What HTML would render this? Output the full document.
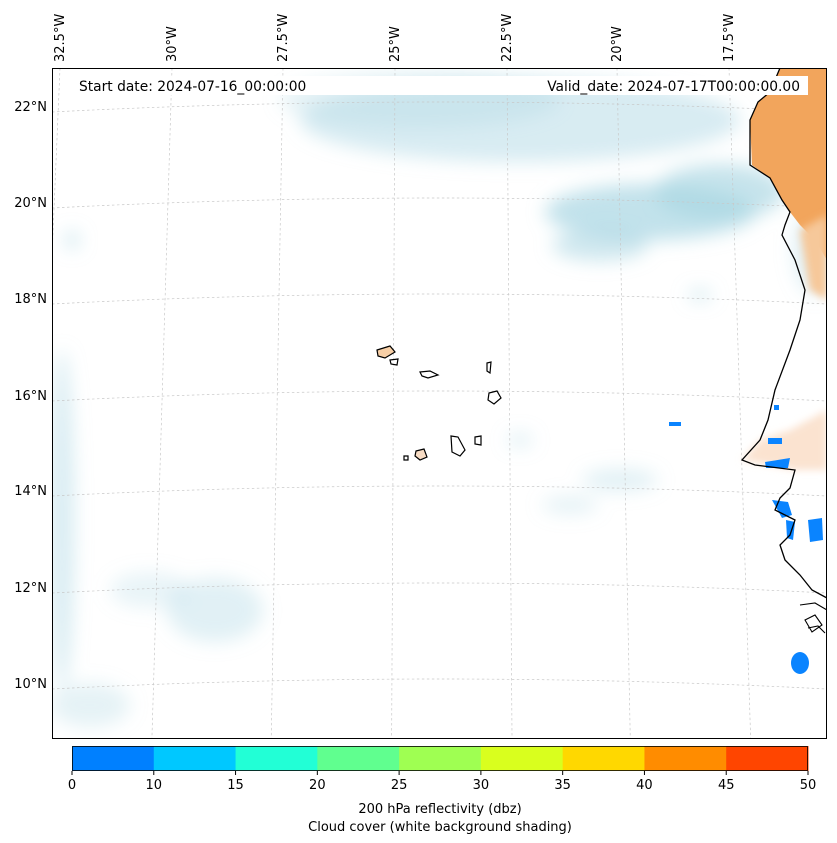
<!DOCTYPE html>
<html><head><meta charset="utf-8">
<style>
body{margin:0;background:#fff;font-family:"Liberation Sans","DejaVu Sans",sans-serif;}
#wrap{position:relative;width:837px;height:843px;overflow:hidden;background:#fff}
svg text{font-family:"DejaVu Sans","Liberation Sans",sans-serif;font-size:13px;fill:#000}
</style></head>
<body>
<div id="wrap">
<svg id="svg" width="837" height="843" xmlns="http://www.w3.org/2000/svg">
<defs>
<filter id="blur" x="-50%" y="-50%" width="200%" height="200%"><feGaussianBlur stdDeviation="9"/></filter>
<filter id="blur2" x="-50%" y="-50%" width="200%" height="200%"><feGaussianBlur stdDeviation="4"/></filter>
<clipPath id="mapclip"><rect x="52" y="68" width="775" height="671"/></clipPath>
</defs>
<g clip-path="url(#mapclip)">
<g id="clouds" filter="url(#blur)" fill="#a8d5e2">
<ellipse cx="520" cy="120" rx="220" ry="42" opacity="0.45"/>
<ellipse cx="420" cy="100" rx="140" ry="28" opacity="0.3"/>
<ellipse cx="650" cy="212" rx="105" ry="28" opacity="0.7"/>
<ellipse cx="720" cy="192" rx="65" ry="28" opacity="0.65"/>
<ellipse cx="600" cy="245" rx="48" ry="16" opacity="0.55"/>
<ellipse cx="62" cy="520" rx="12" ry="170" opacity="0.45"/>
<ellipse cx="90" cy="705" rx="40" ry="22" opacity="0.3"/>
<ellipse cx="215" cy="610" rx="48" ry="32" opacity="0.35"/>
<ellipse cx="150" cy="590" rx="40" ry="18" opacity="0.25"/>
<ellipse cx="620" cy="480" rx="38" ry="11" opacity="0.35"/>
<ellipse cx="570" cy="505" rx="28" ry="9" opacity="0.3"/>
<ellipse cx="815" cy="250" rx="22" ry="45" opacity="0.35"/>
<ellipse cx="72" cy="240" rx="7" ry="9" opacity="0.55"/>
<ellipse cx="700" cy="295" rx="12" ry="5" opacity="0.55"/>
<ellipse cx="520" cy="440" rx="13" ry="7" opacity="0.35"/>
</g>
<g id="grid" stroke="#c8c8c8" stroke-width="0.7" stroke-dasharray="2.5,2.5" fill="none"></g>
<path d="M780,68 L827,68 L827,260 L815,240 L800,225 L790,212 L782,200 L770,178 L752,165 L750,120 L758,102 L770,92 Z" fill="#f2a55c"/>
<path d="M800,230 L827,215 L827,300 L810,290 Z" fill="#f6c89a" filter="url(#blur2)"/>
<path d="M742,460 L760,440 L790,430 L827,410 L827,470 L795,470 Z" fill="#fbe3d0" filter="url(#blur2)"/>
<g fill="#0a84ff">
<path d="M808,520 L822,518 L823,540 L810,542 Z"/>
<path d="M772,500 L788,502 L792,515 L782,518 Z"/>
<path d="M786,520 L795,522 L793,540 L787,538 Z"/>
<path d="M765,462 L790,458 L788,468 L766,468 Z"/>
<ellipse cx="800" cy="663" rx="9" ry="11"/>
<rect x="768" y="438" width="14" height="6"/>
<rect x="774" y="405" width="5" height="5"/>
<rect x="669" y="422" width="12" height="4"/>
</g>
<path d="M780,68 L770,92 L758,102 L750,120 L750,165 L770,178 L782,200 L790,212 L785,225 L782,235 L795,260 L805,290 L800,320 L790,350 L775,390 L768,420 L760,440 L742,460 L755,465 L795,470 L790,488 L780,498 L775,510 L795,520 L790,535 L780,545 L785,560 L800,575 L812,590 L827,598" fill="none" stroke="#000" stroke-width="1.3"/>
<path d="M800,605 L815,603 L827,610 M805,620 L815,615 L822,625 L812,632 Z M808,628 L818,626 L825,633" fill="none" stroke="#000" stroke-width="1.1"/>
<g stroke="#000" stroke-width="1.2" fill="#f8dcc4">
<path d="M377,350 L390,346 L395,352 L385,358 L378,356 Z" fill="#f7cfa6"/>
<path d="M390,360 L398,359 L397,365 L391,364 Z" fill="#fff"/>
<path d="M420,372 L430,371 L438,375 L428,378 L422,376 Z" fill="#fff"/>
<path d="M487,363 L491,362 L490,373 L487,371 Z" fill="#fff"/>
<path d="M489,393 L497,391 L501,398 L494,404 L488,400 Z" fill="#fff"/>
<path d="M451,436 L458,437 L465,450 L460,456 L452,452 Z" fill="#fff"/>
<path d="M475,437 L481,436 L481,445 L475,444 Z" fill="#fff"/>
<path d="M416,451 L424,449 L427,457 L420,460 L415,456 Z"/>
<path d="M404,456 L408,456 L408,460 L404,460 Z" fill="#fff"/>
</g>
<rect x="72" y="76" width="736" height="19" fill="#fff"/>
<text x="79" y="91" style="font-size:13.8px">Start date: 2024-07-16_00:00:00</text>
<text x="800" y="91" text-anchor="end" style="font-size:13.8px">Valid_date: 2024-07-17T00:00:00.00</text>
</g>
<rect x="52.5" y="68.5" width="774" height="670" fill="none" stroke="#000" stroke-width="1"/>
<g id="lonlabels"></g>
<g id="latlabels"></g>
<g id="cbar"></g>
<text x="440" y="813" text-anchor="middle">200 hPa reflectivity (dbz)</text>
<text x="440" y="831" text-anchor="middle">Cloud cover (white background shading)</text>
</svg>
</div>
<script>
const lonLabels=["32.5°W","30°W","27.5°W","25°W","22.5°W","20°W","17.5°W"];
const lonTopX=[60,172,283,395,507,617,729];
const latLabels=["22°N","20°N","18°N","16°N","14°N","12°N","10°N"];
const latY=[106,202,298,395,490,587,683];
const cbBounds=[0,10,15,20,25,30,35,40,45,50];
const cbColors=["#0080ff","#00c8ff","#22ffd6","#60ff8f","#9fff52","#d9ff1e","#ffd800","#ff8c00","#ff4500"];
const NS="http://www.w3.org/2000/svg";
function mk(t,a,p){const e=document.createElementNS(NS,t);for(const k in a)e.setAttribute(k,a[k]);p.appendChild(e);return e;}
const grid=document.getElementById('grid');
lonTopX.forEach((x,i)=>{
 const xb=x+(x-440)*0.075;
 const l=mk('line',{x1:x,y1:68,x2:xb,y2:739},grid);
 
 
});
latY.forEach((y)=>{
 const p=mk('path',{d:`M52,${y+6} Q440,${y-14} 827,${y+6}`},grid);
 
 
});
const lon=document.getElementById('lonlabels');
lonLabels.forEach((s,i)=>{
 const t=mk('text',{x:0,y:0,transform:`translate(${lonTopX[i]+4},62) rotate(-90)`},lon);
 t.textContent=s;
 
 
});
const lat=document.getElementById('latlabels');
latLabels.forEach((s,i)=>{
 const t=mk('text',{x:47,y:latY[i]+5,'text-anchor':'end'},lat);
 t.textContent=s;
 
 
});
const cb=document.getElementById('cbar');
const cx0=72,cx1=808,cy=746,ch=25;
const n=cbColors.length,w=(cx1-cx0)/n;
cbColors.forEach((c,i)=>{
 const r=mk('rect',{x:cx0+i*w,y:cy,width:w+0.5,height:ch,fill:c},cb);
 
 
});
mk('rect',{x:cx0+0.5,y:cy+0.5,width:cx1-cx0-1,height:ch-1,fill:'none',stroke:'#000','stroke-width':0.8},cb);
cbBounds.forEach((b,i)=>{
 const x=cx0+i*w;
 mk('line',{x1:x,y1:cy+ch,x2:x,y2:cy+ch+4,stroke:'#000'},cb);
 const t=mk('text',{x:x,y:cy+ch+18,'text-anchor':'middle'},cb);
 t.textContent=b;
 
 
});
</script>
</body></html>
